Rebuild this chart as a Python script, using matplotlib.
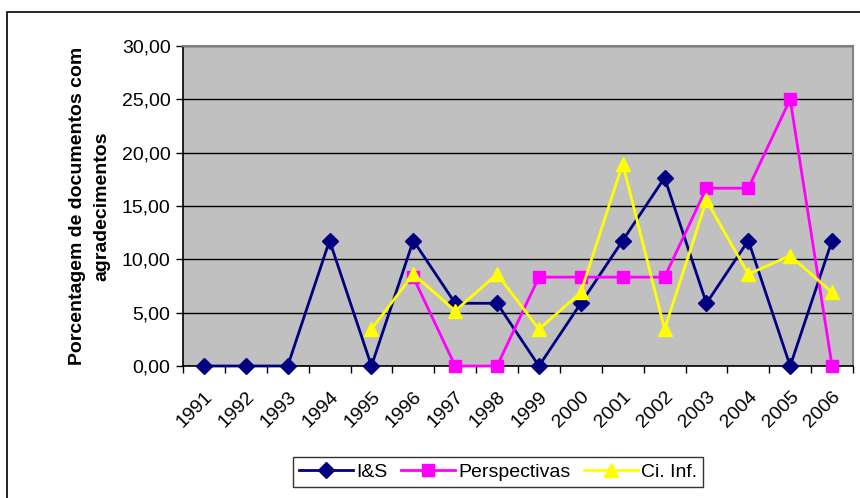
import numpy as np
import matplotlib.pyplot as plt
import matplotlib.transforms as mtransforms
from matplotlib.patches import Rectangle

plt.rcParams['font.family'] = ['Liberation Sans', 'DejaVu Sans']

# ── Data ──────────────────────────────────────────────────────────────────────
years = [str(y) for y in range(1991, 2007)]
nan = np.nan
i_s = [0.00, 0.00, 0.00, 11.76, 0.00, 11.76, 5.88, 5.88,
       0.00, 5.88, 11.76, 17.65, 5.88, 11.76, 0.00, 11.76]
perspectivas = [nan, nan, nan, nan, nan, 8.33, 0.00, 0.00,
                8.33, 8.33, 8.33, 8.33, 16.67, 16.67, 25.00, 0.00]
ci_inf = [nan, nan, nan, nan, 3.45, 8.62, 5.17, 8.62,
          3.45, 6.90, 18.97, 3.45, 15.52, 8.62, 10.34, 6.90]
y_ticks = [0, 5, 10, 15, 20, 25, 30]

FS = 14

# ── Figure ────────────────────────────────────────────────────────────────────
W, H = 860, 498
fig = plt.figure(figsize=(W / 100, H / 100), dpi=100)
fig.patch.set_facecolor("white")

# chart-area frame (only top and left edges fall inside the canvas)
fig.add_artist(Rectangle((7 / W, -0.05), 1.1, (H - 12) / H + 0.05,
                         transform=fig.transFigure, fill=False,
                         edgecolor="black", linewidth=1.2))

L, R, T, B = 183, 853, 46, 366
ax = fig.add_axes([L / W, 1 - B / H, (R - L) / W, (B - T) / H])
ax.set_facecolor("#c0c0c0")

x = np.arange(len(years))
ax.plot(x, i_s, color="#000080", marker="D", markersize=8, linewidth=2,
        label="I&S", zorder=3, clip_on=False)
ax.plot(x, perspectivas, color="#ff00ff", marker="s", markersize=9, linewidth=2,
        label="Perspectivas", zorder=3, clip_on=False)
ax.plot(x, ci_inf, color="#ffff00", marker="^", markersize=10, linewidth=2,
        label="Ci. Inf.", zorder=3, clip_on=False)

ax.set_xlim(-0.5, len(years) - 0.5)
ax.set_ylim(0, 30)

ax.set_yticks(y_ticks)
ax.set_yticklabels([f"{v:.2f}".replace(".", ",") for v in y_ticks], fontsize=FS)
ax.yaxis.grid(True, color="black", linewidth=1)
ax.set_axisbelow(True)

# category boundaries carry the tick marks; labels sit on the categories
ax.set_xticks(np.arange(-0.5, len(years), 1.0))
ax.set_xticklabels([])
ax.set_xticks(x, minor=True)
ax.set_xticklabels(years, minor=True, rotation=45, ha="right", va="top",
                   rotation_mode="anchor", fontsize=FS)
shift = mtransforms.ScaledTranslation(-0.23, 0, fig.dpi_scale_trans)
for lbl in ax.get_xticklabels(minor=True):
    lbl.set_transform(lbl.get_transform() + shift)
ax.tick_params(axis="x", which="minor", length=0, pad=16)
ax.tick_params(axis="x", which="major", length=5, direction="out", width=1)
ax.tick_params(axis="y", length=5, direction="out", width=1, pad=4)

for side in ("top", "right"):
    ax.spines[side].set_color("#808080")
    ax.spines[side].set_linewidth(1.5)
for side in ("left", "bottom"):
    ax.spines[side].set_color("black")
    ax.spines[side].set_linewidth(1.2)

ax.set_ylabel("Porcentagem de documentos com\nagradecimentos", fontsize=FS,
              fontweight="bold", labelpad=8, linespacing=1.55)

leg = fig.legend(loc="center", bbox_to_anchor=(498 / W, 1 - 472 / H), ncol=3,
                 fontsize=FS, frameon=True, fancybox=False, edgecolor="black",
                 handlelength=2.8, handletextpad=0.15, columnspacing=0.7,
                 borderpad=0.3, borderaxespad=0)
leg.get_frame().set_linewidth(1)

fig.savefig("out.png", dpi=100, facecolor="white")
